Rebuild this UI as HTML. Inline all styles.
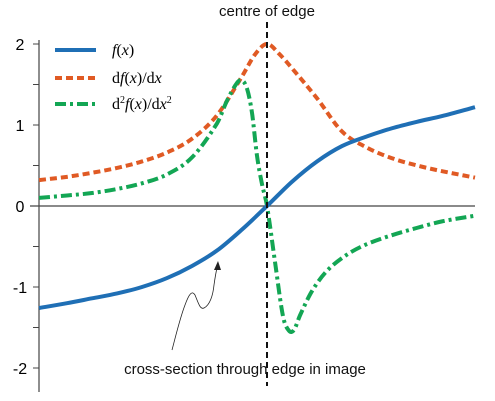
<!DOCTYPE html>
<html><head><meta charset="utf-8"><style>
body{margin:0;background:#fff}
svg{display:block}
.s{font-family:"Liberation Sans",sans-serif}
.r{font-family:"Liberation Serif",serif}
</style></head><body>
<svg id="chart" width="495" height="401">
<text class="s" x="267" y="16" font-size="15" text-anchor="middle" fill="#111">centre of edge</text>
<line x1="39" y1="40" x2="39" y2="392" stroke="#444" stroke-width="1.2"/>
<line x1="30" y1="206" x2="475" y2="206" stroke="#444" stroke-width="1.2"/>
<g id="yticks"></g>
<g id="series"></g>
<line x1="267" y1="22" x2="267" y2="386" stroke="#111" stroke-width="2" stroke-dasharray="6,4"/>
<g>
<line x1="55" y1="50" x2="96" y2="50" stroke="#1f6fb5" stroke-width="4"/>
<text class="r" x="112" y="55" font-size="16"><tspan font-style="italic">f</tspan>(<tspan font-style="italic">x</tspan>)</text>
<line x1="55" y1="78" x2="96" y2="78" stroke="#e05a24" stroke-width="4" stroke-dasharray="7,4"/>
<text class="r" x="112" y="83" font-size="16">d<tspan font-style="italic">f</tspan>(<tspan font-style="italic">x</tspan>)/d<tspan font-style="italic">x</tspan></text>
<line x1="55" y1="104" x2="96" y2="104" stroke="#13a654" stroke-width="4" stroke-dasharray="11,4,3,4"/>
<text class="r" x="112" y="109" font-size="16">d<tspan font-size="10" dy="-6">2</tspan><tspan dy="6" font-style="italic">f</tspan>(<tspan font-style="italic">x</tspan>)/d<tspan font-style="italic">x</tspan><tspan font-size="10" dy="-6">2</tspan></text>
</g>
<path d="M172,350 C176,335 180,318 185,305 C189,294 192,290 195,295 C198,302 200,310 204,308 C210,305 213,295 214,285 C215,278 216,272 217,268" fill="none" stroke="#222" stroke-width="0.8"/>
<polygon points="218,261 214,270 221,270" fill="#222"/>
<text class="s" x="245" y="374" font-size="15" text-anchor="middle" fill="#111">cross-section through edge in image</text>
</svg>
<script>
const yTickLabels=["2","1","0","-1","-2"];
const yTickValues=[2,1,0,-1,-2];
const xF=[-2.28,-2,-1.75,-1.5,-1.25,-1,-0.75,-0.5,-0.25,0,0.25,0.5,0.75,1,1.25,1.5,1.75,2.08];
const fVals=[-1.26,-1.2,-1.14,-1.08,-1.0,-0.89,-0.74,-0.55,-0.29,0,0.3,0.55,0.74,0.86,0.96,1.04,1.11,1.22];
const xDf=[-2.28,-2,-1.75,-1.5,-1.25,-1,-0.75,-0.5,-0.25,-0.12,0,0.12,0.25,0.5,0.75,1,1.25,1.5,1.75,2.08];
const dfVals=[0.32,0.36,0.41,0.47,0.55,0.66,0.83,1.12,1.6,1.87,2.0,1.88,1.7,1.33,0.92,0.72,0.59,0.5,0.43,0.35];
const xD2=[-2.28,-2,-1.75,-1.5,-1.25,-1,-0.75,-0.5,-0.4,-0.3,-0.25,-0.2,-0.15,-0.1,-0.05,0,0.08,0.16,0.22,0.27,0.33,0.45,0.6,0.8,1,1.25,1.5,1.75,2.08];
const d2Vals=[0.1,0.13,0.16,0.21,0.28,0.39,0.6,1.02,1.3,1.52,1.55,1.45,1.15,0.62,0.27,0,-0.69,-1.36,-1.54,-1.53,-1.35,-1.05,-0.8,-0.6,-0.47,-0.36,-0.27,-0.19,-0.12];
const NS="http://www.w3.org/2000/svg";
const sx=v=>267+v*100, sy=v=>206-v*81;
const yt=document.getElementById('yticks');
for(let v=-2;v<=2;v+=0.5){const l=document.createElementNS(NS,'line');
l.setAttribute('x1',33);l.setAttribute('x2',39);l.setAttribute('y1',sy(v));l.setAttribute('y2',sy(v));l.setAttribute('stroke','#444');


yt.appendChild(l);}
yTickValues.forEach((v,i)=>{const t=document.createElementNS(NS,'text');
t.setAttribute('x',20);t.setAttribute('y',sy(v)+6);t.setAttribute('font-size','16');t.setAttribute('text-anchor','middle');t.setAttribute('class','s');t.textContent=yTickLabels[i];


yt.appendChild(t);});
function path(xs,ys){const p=xs.map((x,i)=>[sx(x),sy(ys[i])]);let d='M'+p[0];
for(let i=0;i<p.length-1;i++){const p0=p[i-1]||p[i],p1=p[i],p2=p[i+1],p3=p[i+2]||p2;
const h=p2[0]-p1[0];
const m1=(p2[1]-p0[1])/((p2[0]-p0[0])||1), m2=(p3[1]-p1[1])/((p3[0]-p1[0])||1);
d+=' C'+(p1[0]+h/3)+','+(p1[1]+m1*h/3)+' '+(p2[0]-h/3)+','+(p2[1]-m2*h/3)+' '+p2;}return d;}
const g=document.getElementById('series');
function add(xs,ys,col,dash,name){const e=document.createElementNS(NS,'path');e.setAttribute('d',path(xs,ys));e.setAttribute('fill','none');e.setAttribute('stroke',col);e.setAttribute('stroke-width','4');if(dash)e.setAttribute('stroke-dasharray',dash);


g.appendChild(e);}
add(xDf,dfVals,'#e05a24','7,4','df-line');
add(xD2,d2Vals,'#13a654','11,4,3,4','d2f-line');
add(xF,fVals,'#1f6fb5','','f-line');
</script>
</body></html>
